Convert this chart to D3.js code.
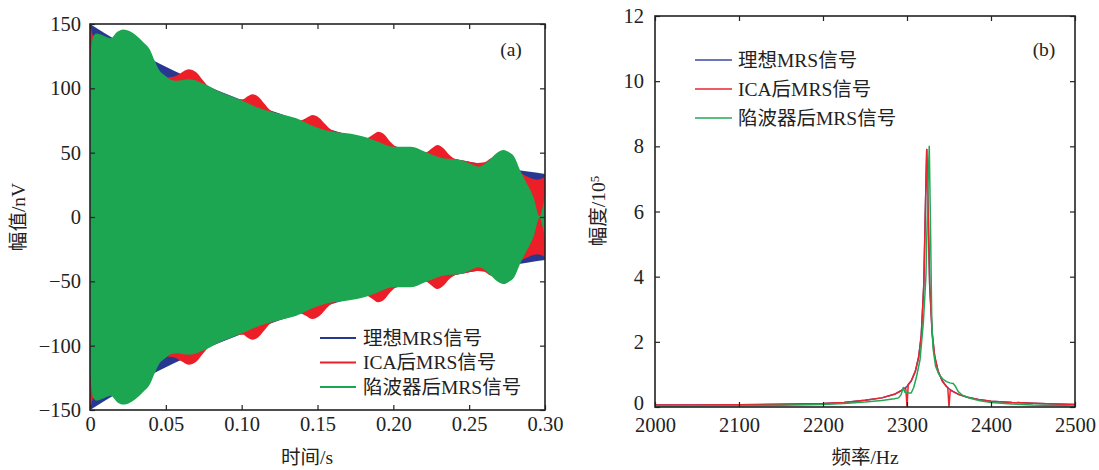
<!DOCTYPE html>
<html>
<head>
<meta charset="utf-8">
<script src="https://cdn.jsdelivr.net/npm/d3@7"></script>
<style>
  body { margin: 0; background: #fff; }
  svg text { font-family: "Liberation Serif", "DejaVu Serif", "Noto Sans CJK SC", serif; fill: #222; }
</style>
</head>
<body>
<svg id="chart" width="1099" height="470"></svg>
<script>
// ---------- Panel (a): time-domain envelopes, nV ----------
const timeIdeal = [0, 0.01, 0.02, 0.03, 0.04, 0.05, 0.06, 0.07, 0.08, 0.09, 0.10,
  0.11, 0.12, 0.13, 0.14, 0.15, 0.16, 0.17, 0.18, 0.19, 0.20,
  0.21, 0.22, 0.23, 0.24, 0.25, 0.26, 0.27, 0.28, 0.29, 0.30];
const envIdeal = [150, 142.7, 135.7, 129.1, 122.8, 116.8, 111.1, 105.7, 100.5, 95.6, 91.0,
  86.5, 82.3, 78.3, 74.5, 70.9, 67.4, 64.1, 61.0, 58.0, 55.2,
  52.5, 49.9, 47.5, 45.2, 43.0, 40.9, 38.9, 37.0, 35.2, 33.5];

const timeICA = [0, 0.002, 0.005, 0.01, 0.02, 0.03, 0.04, 0.045, 0.05, 0.055, 0.06, 0.065,
  0.07, 0.075, 0.078, 0.085, 0.092, 0.097, 0.101, 0.104, 0.107, 0.111, 0.115, 0.119,
  0.126, 0.133, 0.138, 0.142, 0.1467, 0.151, 0.155, 0.159, 0.168, 0.177, 0.182, 0.186,
  0.19, 0.194, 0.198, 0.202, 0.21, 0.216, 0.221, 0.225, 0.229, 0.233, 0.237, 0.241,
  0.248, 0.255, 0.26, 0.264, 0.267, 0.271, 0.275, 0.28, 0.285, 0.29, 0.295, 0.30];
const envICA = [150, 141, 138, 136, 134, 128, 121, 113, 108.5, 109, 112, 114.8,
  112.5, 105.5, 101.5, 97.5, 94.0, 91.8, 91.5, 93.8, 95.4, 93.5, 88, 82.8,
  79.7, 77.0, 74.8, 76.5, 79.3, 77.2, 72.2, 67.8, 64.6, 61.8, 61.0, 63.5,
  66.3, 64.2, 58.5, 54.6, 52.6, 51.0, 50.0, 53.0, 56.0, 53.5, 48.2, 45.0,
  43.5, 42.0, 42.5, 45.5, 46.5, 44.5, 39.5, 36.5, 33.5, 30.5, 29.0, 31];

const timeNotch = [0, 0.002, 0.0042, 0.008, 0.0137, 0.018, 0.0219, 0.026, 0.0301, 0.035,
  0.0396, 0.0424, 0.046, 0.049, 0.0537, 0.058, 0.0608, 0.065, 0.0693, 0.073, 0.077,
  0.085, 0.093, 0.1008, 0.106, 0.11, 0.1196, 0.128, 0.136, 0.1455, 0.152, 0.1597,
  0.168, 0.176, 0.183, 0.19, 0.1997, 0.205, 0.2115, 0.2209, 0.2327, 0.2444, 0.2505,
  0.2562, 0.2633, 0.268, 0.2727, 0.276, 0.2797, 0.2835, 0.2868, 0.2923, 0.2965, 0.2985, 0.30];
const envNotch = [123, 140, 142.7, 141.5, 139, 144, 145.8, 144.5, 141.4, 136,
  129.8, 122, 113.5, 110.4, 106.5, 105.8, 106.5, 107, 106.3, 104.5, 102.6,
  97.5, 93.8, 90.2, 87.5, 85.3, 81.8, 79.3, 76.7, 71.5, 68.5, 66.3,
  65.2, 63.7, 61.5, 58.5, 54.6, 54.6, 54.6, 50.7, 45.6, 44.3, 41.5,
  39.1, 44.3, 49.5, 52.1, 50.5, 46.9, 36.5, 28.8, 15.8, 0.5, 8, 17];

// ---------- Panel (b): amplitude spectra, ×10^5 ----------
const freqIdeal = [2000, 2050, 2100, 2150, 2200, 2225, 2250, 2270, 2285, 2295, 2300, 2305,
  2310, 2314, 2317, 2320, 2322, 2323.5, 2325, 2327, 2330, 2333, 2337, 2342, 2347, 2350,
  2355, 2362, 2372, 2385, 2400, 2425, 2450, 2475, 2500];
const specIdeal = [0.06, 0.065, 0.07, 0.085, 0.11, 0.14, 0.21, 0.28, 0.39, 0.53, 0.63, 0.8,
  1.1, 1.55, 2.2, 3.75, 6.2, 7.9, 6.2, 3.75, 2.25, 1.55, 1.1, 0.8, 0.63, 0.56,
  0.47, 0.38, 0.3, 0.23, 0.18, 0.14, 0.115, 0.095, 0.08];

const freqICA = [2000, 2050, 2100, 2150, 2200, 2225, 2250, 2270, 2285, 2295, 2298.5, 2300,
  2301.5, 2305, 2310, 2314, 2317, 2320, 2322, 2323.5, 2325, 2327, 2330, 2333, 2337, 2342,
  2347, 2348.5, 2350, 2351.5, 2355, 2362, 2372, 2385, 2400, 2425, 2450, 2475, 2500];
const specICA = [0.06, 0.065, 0.07, 0.085, 0.11, 0.14, 0.21, 0.28, 0.39, 0.53, 0.6, 0.0,
  0.7, 0.8, 1.1, 1.55, 2.2, 3.75, 6.2, 7.9, 6.2, 3.75, 2.25, 1.55, 1.1, 0.8,
  0.63, 0.6, 0.0, 0.52, 0.47, 0.38, 0.3, 0.23, 0.18, 0.14, 0.115, 0.095, 0.08];

const freqNotch = [2000, 2050, 2100, 2150, 2200, 2225, 2250, 2270, 2285, 2290, 2293, 2295.5,
  2297.5, 2300, 2305, 2308, 2311.5, 2315.5, 2319.5, 2322.5, 2325, 2326.5, 2328, 2329.5,
  2331, 2334, 2338, 2343, 2347, 2351, 2355, 2358, 2361, 2366, 2375, 2387, 2400, 2425,
  2450, 2475, 2500];
const specNotch = [0.03, 0.035, 0.04, 0.055, 0.08, 0.11, 0.15, 0.2, 0.25, 0.28, 0.38, 0.6,
  0.45, 0.43, 0.43, 0.6, 0.95, 1.45, 2.6, 4.0, 6.8, 8.0, 5.5, 2.6,
  1.8, 1.25, 1.0, 0.85, 0.78, 0.74, 0.72, 0.62, 0.47, 0.36, 0.27, 0.19, 0.14, 0.09,
  0.06, 0.045, 0.03];

const seriesNames = ["理想MRS信号", "ICA后MRS信号", "陷波器后MRS信号"];
const fillColors = ["#283891", "#ec1f28", "#1ca651"];
const lineColors = ["#3a48a0", "#ea2530", "#22a855"];

const timeTicks = [0, 0.05, 0.10, 0.15, 0.20, 0.25, 0.30];
const timeTickLabels = ["0", "0.05", "0.10", "0.15", "0.20", "0.25", "0.30"];
const ampTicks = [-150, -100, -50, 0, 50, 100, 150];
const freqTicks = [2000, 2100, 2200, 2300, 2400, 2500];
const specTicks = [0, 2, 4, 6, 8, 10, 12];

const svg = d3.select("#chart");
const FS = 19.5;      // titles and legends
const TICK_FS = 20.5; // tick numbers

function frameAndTicks(g, x, y, xTicks, yTicks, xFmt, yFmt, xPad, yPad) {
  const [x0, x1] = x.range();
  const [y0, y1] = y.range();
  const axes = [
    g.append("g").attr("transform", `translate(0,${y0})`)
      .call(d3.axisBottom(x).tickValues(xTicks).tickSize(-5).tickPadding(xPad).tickFormat(xFmt)),
    g.append("g").attr("transform", `translate(0,${y1})`)
      .call(d3.axisTop(x).tickValues(xTicks).tickSize(-5).tickFormat("")),
    g.append("g").attr("class", "yleft").attr("transform", `translate(${x0},0)`)
      .call(d3.axisLeft(y).tickValues(yTicks).tickSize(-5).tickPadding(yPad).tickFormat(yFmt)),
    g.append("g").attr("transform", `translate(${x1},0)`)
      .call(d3.axisRight(y).tickValues(yTicks).tickSize(-5).tickFormat(""))
  ];
  axes.forEach(a => {
    a.attr("font-family", null).attr("font-size", null);
    a.select(".domain").remove();
    a.selectAll(".tick line").attr("stroke", "#222").attr("stroke-width", 1.2);
    a.selectAll(".tick text").attr("font-size", TICK_FS).attr("fill", "#222");
  });
  g.append("rect").attr("x", x0).attr("y", y1).attr("width", x1 - x0).attr("height", y0 - y1)
    .attr("fill", "none").attr("stroke", "#222").attr("stroke-width", 1.6);
  return axes;
}

// ---------- Panel (a) ----------
const xa = d3.scaleLinear().domain([0, 0.30]).range([90, 545]);
const ya = d3.scaleLinear().domain([-150, 150]).range([410, 24]);
const ga = svg.append("g");

ga.append("clipPath").attr("id", "clipA").append("rect")
  .attr("x", 90).attr("y", 24).attr("width", 455).attr("height", 386);

const envArea = d3.area()
  .x(d => xa(d[0])).y0(d => ya(-d[1])).y1(d => ya(d[1]))
  .curve(d3.curveMonotoneX);

const envSeries = [
  d3.zip(timeIdeal, envIdeal),
  d3.zip(timeICA, envICA),
  d3.zip(timeNotch, envNotch)
];
const plotA = ga.append("g").attr("clip-path", "url(#clipA)");
envSeries.forEach((s, i) => {
  plotA.append("path").datum(s).attr("d", envArea).attr("fill", fillColors[i]);
});

frameAndTicks(ga, xa, ya, timeTicks, ampTicks,
  (d, i) => timeTickLabels[i], d => d < 0 ? "\u2212" + Math.abs(d) : String(d), 6, 9);

// legend (a)
const legA = ga.append("g");
seriesNames.forEach((name, i) => {
  const yy = 338 + i * 24.5;
  legA.append("line").attr("x1", 320).attr("x2", 356).attr("y1", yy).attr("y2", yy)
    .attr("stroke", fillColors[i]).attr("stroke-width", 1.8);
  legA.append("text").attr("x", 363).attr("y", yy).attr("dy", "0.35em")
    .attr("font-size", FS).text(name);
});
ga.append("text").attr("x", 511).attr("y", 49).attr("dy", "0.35em")
  .attr("text-anchor", "middle").attr("font-size", FS).text("(a)");
ga.append("text").attr("x", 307).attr("y", 457).attr("dy", "0.35em")
  .attr("text-anchor", "middle").attr("font-size", FS).text("时间/s");
ga.append("text").attr("transform", "translate(18,217) rotate(-90)").attr("dy", "0.35em")
  .attr("text-anchor", "middle").attr("font-size", FS).text("幅值/nV");

// ---------- Panel (b) ----------
const xb = d3.scaleLinear().domain([2000, 2500]).range([655, 1075]);
const yb = d3.scaleLinear().domain([0, 12]).range([407, 16]);
const gb = svg.append("g");

gb.append("clipPath").attr("id", "clipB").append("rect")
  .attr("x", 655).attr("y", 16).attr("width", 420).attr("height", 391);

const specLine = d3.line().x(d => xb(d[0])).y(d => yb(d[1]));
const specSeries = [
  d3.zip(freqIdeal, specIdeal),
  d3.zip(freqICA, specICA),
  d3.zip(freqNotch, specNotch)
];
const plotB = gb.append("g").attr("clip-path", "url(#clipB)");
specSeries.forEach((s, i) => {
  plotB.append("path").datum(s).attr("d", specLine)
    .attr("fill", "none").attr("stroke", lineColors[i]).attr("stroke-width", 1.5)
    .attr("stroke-linejoin", "round");
});

const axesB = frameAndTicks(gb, xb, yb, freqTicks, specTicks, d => String(d), d => String(d), 10, 11);
// lift the "0" label a little so it clears the "2000" label beneath it
axesB[2].selectAll(".tick").filter(d => d === 0).select("text").attr("dy", "0.1em");

const legB = gb.append("g");
seriesNames.forEach((name, i) => {
  const yy = 60 + i * 29;
  legB.append("line").attr("x1", 695).attr("x2", 732).attr("y1", yy).attr("y2", yy)
    .attr("stroke", lineColors[i]).attr("stroke-width", 1.4);
  legB.append("text").attr("x", 738).attr("y", yy).attr("dy", "0.35em")
    .attr("font-size", FS).text(name);
});
gb.append("text").attr("x", 1044).attr("y", 49).attr("dy", "0.35em")
  .attr("text-anchor", "middle").attr("font-size", FS).text("(b)");
gb.append("text").attr("x", 865).attr("y", 457).attr("dy", "0.35em")
  .attr("text-anchor", "middle").attr("font-size", FS).text("频率/Hz");
const yTitleB = gb.append("text").attr("transform", "translate(598,211) rotate(-90)")
  .attr("dy", "0.35em").attr("text-anchor", "middle").attr("font-size", FS);
yTitleB.append("tspan").text("幅度/10");
yTitleB.append("tspan").attr("dy", "-0.45em").attr("font-size", 13).text("5");
</script>
</body>
</html>
